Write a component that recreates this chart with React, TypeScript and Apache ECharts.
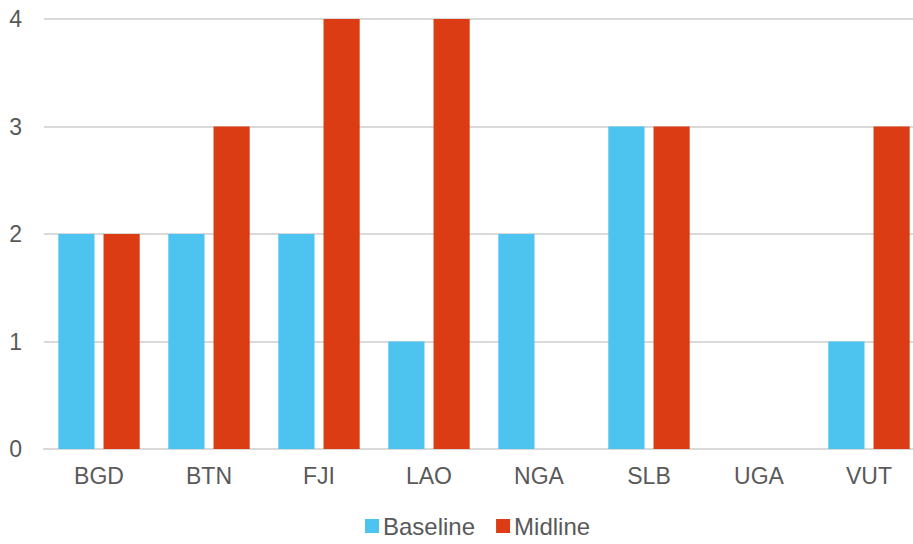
import React, { useEffect, useRef } from "react";
import * as echarts from "echarts";

const categories = ["BGD", "BTN", "FJI", "LAO", "NGA", "SLB", "UGA", "VUT"];
const baseline = [2, 2, 2, 1, 2, 3, 0, 1];
const midline = [2, 3, 4, 4, 0, 3, 0, 3];

export default function App() {
  const ref = useRef<HTMLDivElement>(null);
  useEffect(() => {
    const chart = echarts.init(ref.current!, null, { renderer: "svg" });
    const font = "Liberation Sans, Arial, sans-serif";
    chart.setOption({
      animation: false,
      grid: { left: 44, right: 0, top: 19, bottom: 95, outerBoundsMode: "none" },
      legend: {
        bottom: 1,
        left: 360,
        itemWidth: 14,
        itemHeight: 14,
        itemGap: 21,
        icon: "rect",
        textStyle: { fontFamily: font, fontSize: 24, color: "#595959", padding: [0, 0, 0, -1] },
        data: ["Baseline", "Midline"],
      },
      xAxis: {
        type: "category",
        data: categories,
        axisTick: { show: false },
        axisLine: { lineStyle: { color: "#d9d9d9", width: 2 } },
        axisLabel: { fontFamily: font, fontSize: 23, color: "#595959", margin: 15 },
      },
      yAxis: {
        type: "value",
        min: 0,
        max: 4,
        interval: 1,
        axisLabel: { fontFamily: font, fontSize: 23, color: "#595959", margin: 22 },
        splitLine: { lineStyle: { color: "#d9d9d9", width: 2 } },
      },
      series: [
        {
          name: "Baseline",
          type: "bar",
          data: baseline,
          itemStyle: { color: "#4DC3F0" },
          barGap: "25%",
          barCategoryGap: "26%",
        },
        {
          name: "Midline",
          type: "bar",
          data: midline,
          itemStyle: { color: "#DC3C14" },
          barGap: "25%",
          barCategoryGap: "26%",
        },
      ],
    });
    return () => chart.dispose();
  }, []);
  return (
    <div style={{ width: 913, height: 544, position: "absolute", left: 0, top: 0, overflow: "hidden" }}>
      <div ref={ref} style={{ width: 924, height: 544 }} />
    </div>
  );
}
